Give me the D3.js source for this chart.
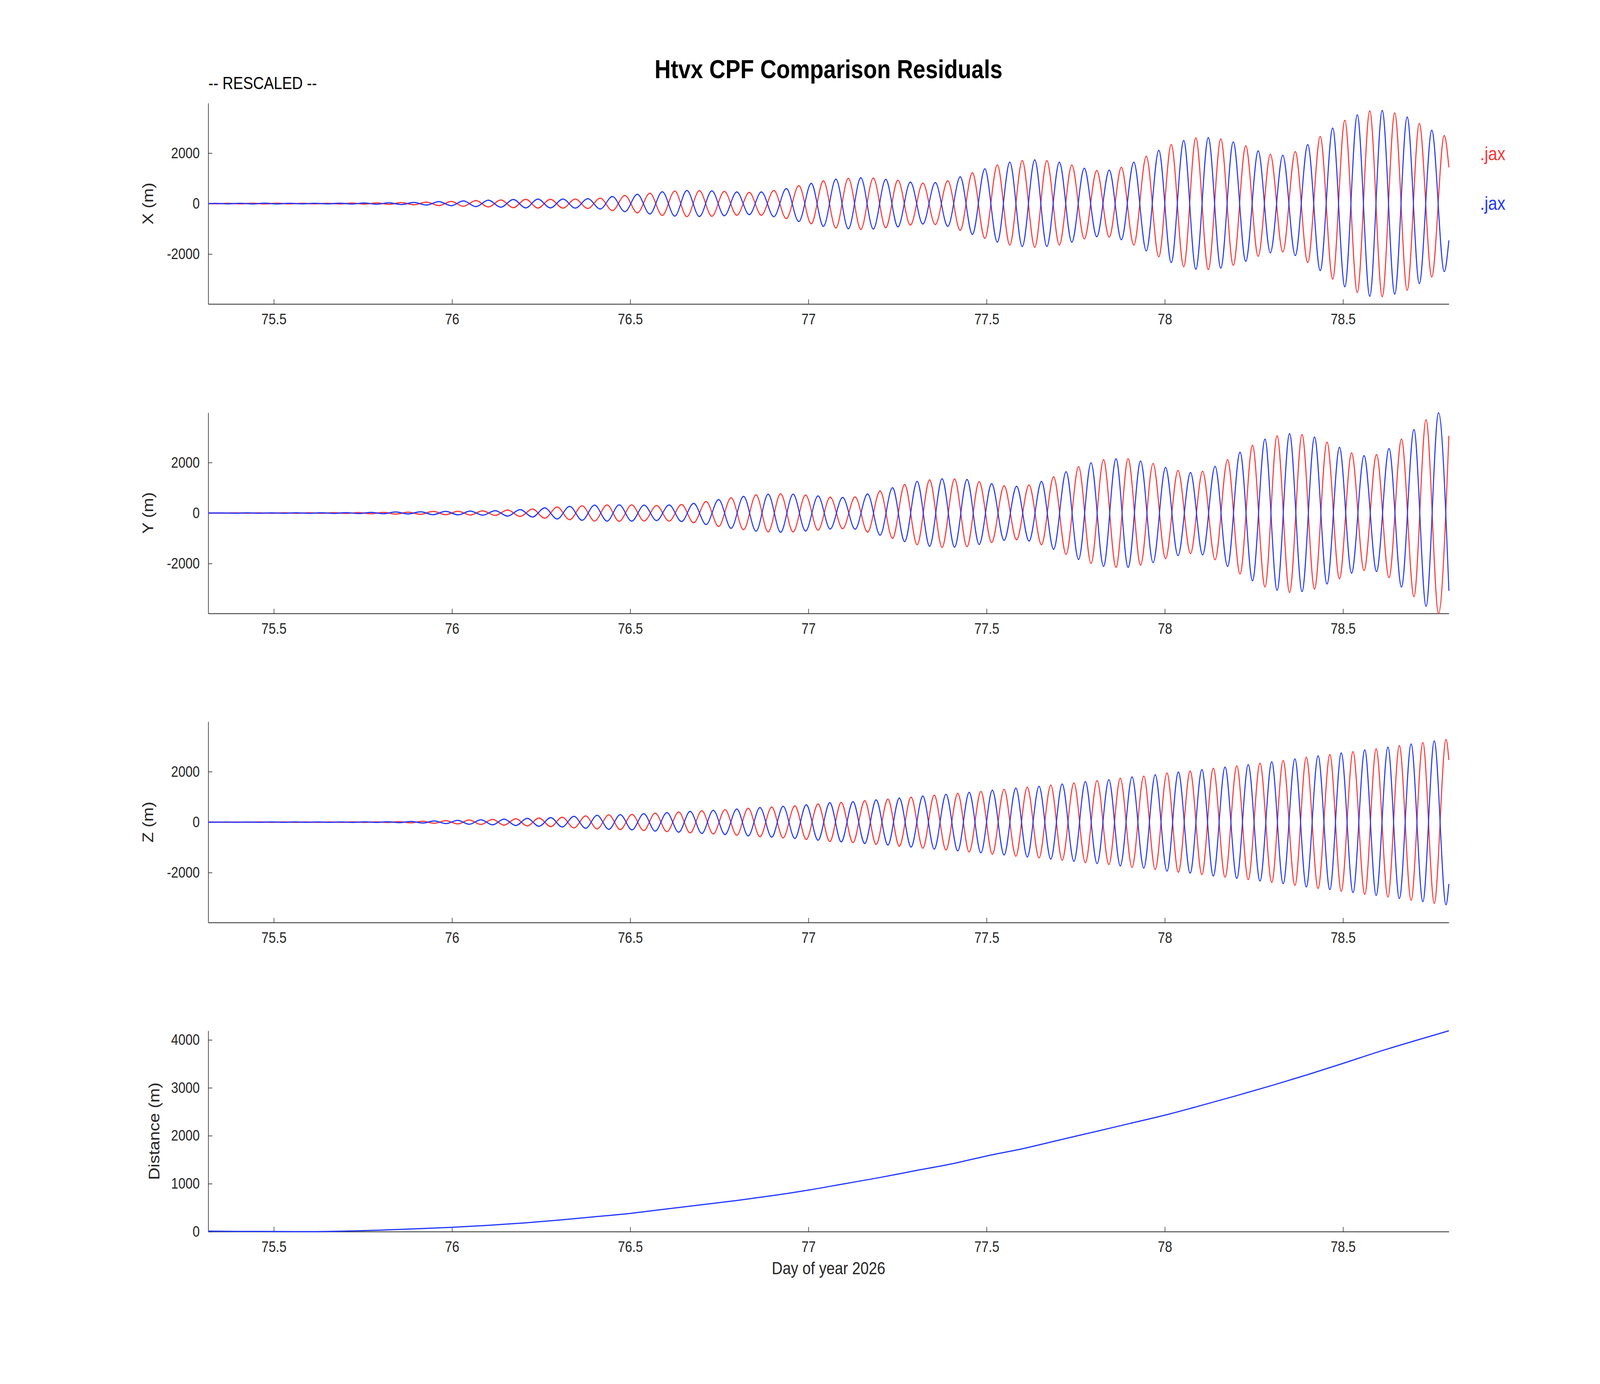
<!DOCTYPE html>
<html>
<head>
<meta charset="utf-8">
<script src="https://cdn.jsdelivr.net/npm/d3@7"></script>
<style>
  html, body { margin: 0; padding: 0; background: #fff; overflow: hidden; }
  svg { display: block; width: 100vw; height: 100vh; }
  text { font-family: "Liberation Sans", Arial, Helvetica, sans-serif; }
</style>
</head>
<body>
<svg id="chart"></svg>
<script>
//*
//* Data
//*

var dayTicks = [75.5, 76, 76.5, 77, 77.5, 78, 78.5];
var xyzTicks = [-2000, 0, 2000];
var distTicks = [0, 1000, 2000, 3000, 4000];

/* X residuals: times of each extremum, red and blue value there */
var tX = [75.316, 75.336, 75.371, 75.405, 75.440, 75.475, 75.510, 75.545, 75.580, 75.614, 75.649, 75.684, 75.719, 75.754, 75.789, 75.823, 75.858, 75.893, 75.928, 75.963, 75.998, 76.032, 76.067, 76.102, 76.137, 76.172, 76.207, 76.241, 76.276, 76.311, 76.346, 76.381, 76.416, 76.450, 76.485, 76.520, 76.555, 76.590, 76.625, 76.659, 76.694, 76.729, 76.764, 76.799, 76.834, 76.868, 76.903, 76.938, 76.973, 77.008, 77.042, 77.077, 77.112, 77.147, 77.182, 77.217, 77.251, 77.286, 77.321, 77.356, 77.391, 77.426, 77.460, 77.495, 77.530, 77.565, 77.600, 77.635, 77.669, 77.704, 77.739, 77.774, 77.809, 77.844, 77.878, 77.913, 77.948, 77.983, 78.018, 78.053, 78.087, 78.122, 78.157, 78.192, 78.227, 78.262, 78.296, 78.331, 78.366, 78.401, 78.436, 78.471, 78.505, 78.540, 78.575, 78.610, 78.645, 78.680, 78.714, 78.749, 78.784, 78.797];
var redX = [0, -8, 10, -12, 14, -15, 14, -12, 10, -10, 12, -15, 18, -22, 26, -30, 38, -48, 60, -78, 85, -107, 121, -135, 142, -163, 171, -178, 171, -178, 178, -192, 213, -277, 320, -369, 412, -469, 497, -519, 512, -504, 483, -462, 440, -462, 519, -597, 711, -803, 902, -966, 1000, -1023, 1009, -959, 924, -853, 810, -831, 902, -1059, 1222, -1378, 1528, -1641, 1705, -1734, 1698, -1641, 1528, -1400, 1314, -1329, 1435, -1641, 1876, -2110, 2338, -2501, 2600, -2615, 2558, -2444, 2288, -2089, 1954, -1918, 2060, -2338, 2657, -2991, 3297, -3517, 3673, -3688, 3588, -3432, 3169, -2906, 2693, 1435];
var blueX = [0, 8, -10, 12, -14, 15, -14, 12, -10, 10, -12, 15, -18, 22, -26, 30, -38, 48, -60, 78, -85, 107, -121, 135, -142, 163, -171, 178, -171, 178, -178, 192, -213, 277, -320, 369, -412, 469, -497, 519, -512, 504, -483, 462, -440, 462, -519, 597, -711, 803, -902, 966, -1000, 1023, -1009, 959, -924, 853, -810, 831, -902, 1059, -1222, 1378, -1528, 1641, -1705, 1734, -1698, 1641, -1528, 1400, -1314, 1329, -1435, 1641, -1876, 2110, -2338, 2501, -2600, 2615, -2558, 2444, -2288, 2089, -1954, 1918, -2060, 2338, -2657, 2991, -3297, 3517, -3673, 3688, -3588, 3432, -3169, 2906, -2693, -1457];

/* Y residuals */
var tY = [75.316, 75.355, 75.390, 75.424, 75.459, 75.494, 75.529, 75.564, 75.599, 75.633, 75.668, 75.703, 75.738, 75.773, 75.808, 75.842, 75.877, 75.912, 75.947, 75.982, 76.017, 76.051, 76.086, 76.121, 76.156, 76.191, 76.226, 76.260, 76.295, 76.330, 76.365, 76.400, 76.435, 76.469, 76.504, 76.539, 76.574, 76.609, 76.644, 76.678, 76.713, 76.748, 76.783, 76.818, 76.853, 76.887, 76.922, 76.957, 76.992, 77.027, 77.061, 77.096, 77.131, 77.166, 77.201, 77.236, 77.270, 77.305, 77.340, 77.375, 77.410, 77.445, 77.479, 77.514, 77.549, 77.584, 77.619, 77.654, 77.688, 77.723, 77.758, 77.793, 77.828, 77.863, 77.897, 77.932, 77.967, 78.002, 78.037, 78.072, 78.106, 78.141, 78.176, 78.211, 78.246, 78.281, 78.315, 78.350, 78.385, 78.420, 78.455, 78.490, 78.524, 78.559, 78.594, 78.629, 78.664, 78.699, 78.733, 78.768, 78.797];
var redY = [0, -5, 6, -6, 8, -8, 10, -10, 12, -12, 14, -16, 20, -28, 28, -43, 36, -50, 64, -64, 71, -78, 85, -93, 121, -135, 157, -206, 235, -263, 285, -313, 320, -327, 320, -313, 299, -320, 335, -384, 455, -534, 605, -662, 719, -747, 762, -747, 712, -676, 633, -619, 640, -754, 875, -1003, 1132, -1253, 1317, -1359, 1352, -1331, 1245, -1167, 1082, -1060, 1110, -1253, 1438, -1637, 1843, -1993, 2114, -2149, 2149, -2064, 1964, -1808, 1687, -1608, 1658, -1850, 2114, -2413, 2683, -2925, 3060, -3146, 3110, -3011, 2811, -2605, 2384, -2277, 2320, -2555, 2932, -3309, 3694, -3978, 3060];
var blueY = [0, 5, -6, 6, -8, 8, -10, 10, -12, 12, -14, 16, -20, 28, -28, 43, -36, 50, -64, 64, -71, 78, -85, 93, -121, 135, -157, 206, -235, 263, -285, 313, -320, 327, -320, 313, -299, 320, -335, 384, -455, 534, -605, 662, -719, 747, -762, 747, -712, 676, -633, 619, -640, 754, -875, 1003, -1132, 1253, -1317, 1359, -1352, 1331, -1245, 1167, -1082, 1060, -1110, 1253, -1438, 1637, -1843, 1993, -2114, 2149, -2149, 2064, -1964, 1808, -1687, 1608, -1658, 1850, -2114, 2413, -2683, 2925, -3060, 3146, -3110, 3011, -2811, 2605, -2384, 2277, -2320, 2555, -2932, 3309, -3694, 3978, -3080];

/* Z residuals */
var tZ = [75.316, 75.330, 75.363, 75.396, 75.428, 75.461, 75.494, 75.526, 75.559, 75.591, 75.624, 75.657, 75.689, 75.722, 75.755, 75.787, 75.820, 75.852, 75.885, 75.918, 75.950, 75.983, 76.016, 76.048, 76.081, 76.114, 76.146, 76.179, 76.211, 76.244, 76.277, 76.309, 76.342, 76.375, 76.407, 76.440, 76.472, 76.505, 76.538, 76.570, 76.603, 76.636, 76.668, 76.701, 76.733, 76.766, 76.799, 76.831, 76.864, 76.897, 76.929, 76.962, 76.994, 77.027, 77.060, 77.092, 77.125, 77.158, 77.190, 77.223, 77.255, 77.288, 77.321, 77.353, 77.386, 77.419, 77.451, 77.484, 77.516, 77.549, 77.582, 77.614, 77.647, 77.680, 77.712, 77.745, 77.777, 77.810, 77.843, 77.875, 77.908, 77.941, 77.973, 78.006, 78.038, 78.071, 78.104, 78.136, 78.169, 78.202, 78.234, 78.267, 78.300, 78.332, 78.365, 78.397, 78.430, 78.463, 78.495, 78.528, 78.561, 78.593, 78.626, 78.658, 78.691, 78.724, 78.756, 78.789, 78.797];
var redZ = [0, 4, -4, 5, -5, 6, -6, 7, -7, 8, -8, 9, -9, 10, -11, 12, -14, 21, -28, 36, -45, 58, -71, 85, -93, 107, -121, 135, -150, 164, -178, 192, -228, 242, -270, 285, -295, 306, -334, 356, -377, 399, -427, 448, -470, 491, -520, 548, -576, 598, -626, 648, -690, 719, -769, 783, -811, 847, -883, 911, -954, 989, -1032, 1068, -1103, 1139, -1181, 1217, -1267, 1302, -1352, 1381, -1416, 1466, -1509, 1552, -1608, 1644, -1680, 1737, -1793, 1822, -1879, 1943, -1986, 2021, -2078, 2135, -2178, 2228, -2277, 2334, -2391, 2441, -2505, 2569, -2626, 2676, -2740, 2790, -2861, 2904, -2968, 3032, -3096, 3153, -3217, 3274, 2462];
var blueZ = [0, -4, 4, -5, 5, -6, 6, -7, 7, -8, 8, -9, 9, -10, 11, -12, 14, -21, 28, -36, 45, -58, 71, -85, 93, -107, 121, -135, 150, -164, 178, -192, 228, -242, 270, -285, 295, -306, 334, -356, 377, -399, 427, -448, 470, -491, 520, -548, 576, -598, 626, -648, 690, -719, 769, -783, 811, -847, 883, -911, 954, -989, 1032, -1068, 1103, -1139, 1181, -1217, 1267, -1302, 1352, -1381, 1416, -1466, 1509, -1552, 1608, -1644, 1680, -1737, 1793, -1822, 1879, -1943, 1986, -2021, 2078, -2135, 2178, -2228, 2277, -2334, 2391, -2441, 2505, -2569, 2626, -2676, 2740, -2790, 2861, -2904, 2968, -3032, 3096, -3153, 3217, -3274, -2448];

/* Distance */
var tDist = [75.316, 75.4, 75.5, 75.6, 75.7, 75.8, 75.9, 76.0, 76.1, 76.2, 76.3, 76.4, 76.5, 76.6, 76.7, 76.8, 76.9, 77.0, 77.1, 77.2, 77.3, 77.4, 77.5, 77.6, 77.7, 77.8, 77.9, 78.0, 78.1, 78.2, 78.3, 78.4, 78.5, 78.6, 78.7, 78.797];
var distVals = [10, 5, 3, 0, 10, 30, 60, 90, 130, 180, 240, 310, 380, 470, 560, 650, 752, 866, 997, 1128, 1271, 1410, 1578, 1728, 1904, 2077, 2253, 2429, 2628, 2834, 3048, 3273, 3509, 3753, 3978, 4190];

//*
//* Layout
//*

var W = 4722, H = 3542;
var left = 614.6, right = 4276;
var panelTop = [264, 1056, 1847, 2638];
var panelH = 514;
var red = "#ff3333", blue = "#1f35ff", axisCol = "#262626";

/* drawn in a fixed 4722x3542 space, stretched to fill the window */
var svg = d3.select("#chart")
	.attr("viewBox", "0 0 " + W + " " + H)
	.attr("preserveAspectRatio", "none");
svg.append("rect").attr("width", W).attr("height", H).attr("fill", "#fff");

var x = d3.scaleLinear().domain([75.316, 78.797]).range([left, right]);

drawPanel(0, [-3980, 3980], xyzTicks, "X (m)", 452, [[tX, redX, red], [tX, blueX, blue]]);
drawPanel(1, [-3980, 3980], xyzTicks, "Y (m)", 452, [[tY, redY, red], [tY, blueY, blue]]);
drawPanel(2, [-3980, 3980], xyzTicks, "Z (m)", 452, [[tZ, redZ, red], [tZ, blueZ, blue]]);
drawPanel(3, [0, 4190], distTicks, "Distance (m)", 470, [[tDist, distVals, blue]]);

/* title, note, legend, x label */
svg.append("text")
	.attr("x", (left + right) / 2).attr("y", 200)
	.attr("text-anchor", "middle")
	.attr("font-size", 66).attr("font-weight", "bold").attr("fill", "#000")
	.text("Htvx CPF Comparison Residuals");

svg.append("text")
	.attr("x", 615).attr("y", 228)
	.attr("font-size", 44).attr("fill", "#000")
	.text("-- RESCALED --");

svg.append("text")
	.attr("x", 4368).attr("y", 410)
	.attr("font-size", 48).attr("fill", red)
	.text(".jax");
svg.append("text")
	.attr("x", 4368).attr("y", 537)
	.attr("font-size", 48).attr("fill", blue)
	.text(".jax");

svg.append("text")
	.attr("x", (left + right) / 2).attr("y", 3261)
	.attr("text-anchor", "middle")
	.attr("font-size", 44).attr("fill", axisCol)
	.text("Day of year 2026");

//*
//* Functions
//*

function drawPanel(i, yDomain, yTicks, label, labelX, series) {
	var top = panelTop[i], bottom = top + panelH;
	var y = d3.scaleLinear().domain(yDomain).range([bottom, top]);
	var g = svg.append("g");

	/* axes, ticks pointing inward */
	var xa = g.append("g")
		.attr("transform", "translate(0," + bottom + ")")
		.call(d3.axisBottom(x).tickValues(dayTicks).tickFormat(String)
			.tickSizeInner(-12).tickSizeOuter(0).tickPadding(25));
	var ya = g.append("g")
		.attr("transform", "translate(" + left + ",0)")
		.call(d3.axisLeft(y).tickValues(yTicks).tickFormat(String)
			.tickSizeInner(-12).tickSizeOuter(0).tickPadding(25));
	[xa, ya].forEach(function(a) {
		a.select(".domain").attr("stroke", axisCol).attr("stroke-width", 1.8);
		a.selectAll(".tick line").attr("stroke", axisCol).attr("stroke-width", 1.6);
		a.selectAll(".tick text")
			.attr("font-size", 38).attr("fill", axisCol)
			.attr("font-family", "'Liberation Sans', Arial, Helvetica, sans-serif");
	});

	/* y label */
	g.append("text")
		.attr("transform", "translate(" + labelX + "," + (top + bottom) / 2 + ") rotate(-90)")
		.attr("text-anchor", "middle")
		.attr("font-size", 44).attr("fill", axisCol)
		.text(label);

	/* lines through the extrema, smoothed by d3 */
	var line = d3.line()
		.x(function(d) { return x(d[0]); })
		.y(function(d) { return y(d[1]); })
		.curve(d3.curveMonotoneX);
	series.forEach(function(s) {
		g.append("path")
			.datum(d3.zip(s[0], s[1]))
			.attr("d", line)
			.attr("fill", "none")
			.attr("stroke", s[2])
			.attr("stroke-width", 3)
			.attr("stroke-linejoin", "round");
	});
}
</script>
</body>
</html>
